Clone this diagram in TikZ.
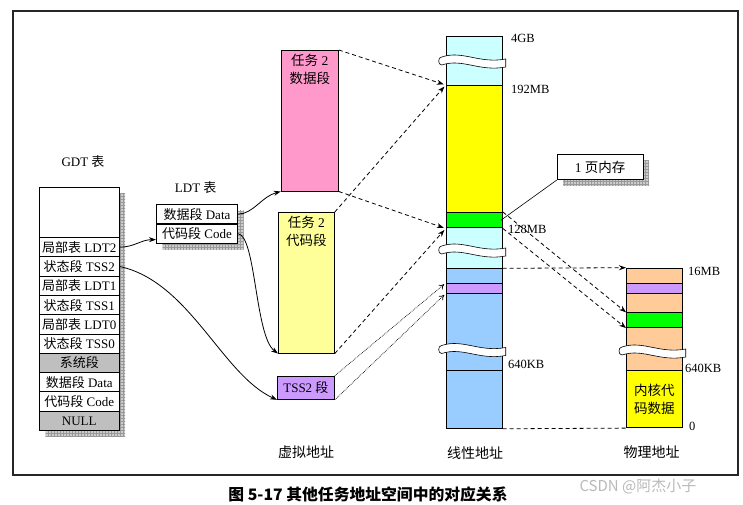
\documentclass[tikz,border=0pt]{standalone}
\usepackage{fontspec}
\usepackage{tikz}
\usetikzlibrary{arrows.meta,patterns}
\setmainfont{Liberation Serif}
\newfontfamily\cjk{Noto Sans CJK SC}
\newcommand{\rowfont}{\fontsize{13}{15}\selectfont}
\newcommand{\numfont}{\fontsize{12.5}{14}\selectfont}
% white wave cut across a column: left x, right x, middle y (pixels)
\newcommand{\wavecut}[3]{%
  \draw[fill=white, line width=0.6pt] (#1-4,-#3+4)
    .. controls (#1+0.3*#2-0.3*#1,-#3+11) and (#1+0.6*#2-0.6*#1,-#3-3) .. (#2+4,-#3+2)
    -- (#2+4,-#3-6)
    .. controls (#1+0.6*#2-0.6*#1,-#3-11) and (#1+0.3*#2-0.3*#1,-#3+3) .. (#1-4,-#3-4)
    .. controls (#1-8,-#3-4) and (#1-8,-#3+4) .. cycle;}
\definecolor{segpink}{HTML}{FF99CC}
\definecolor{segcode}{HTML}{FFFF99}
\definecolor{segtss}{HTML}{CC99FF}
\definecolor{segcyan}{HTML}{CCFFFF}
\definecolor{segblue}{HTML}{99CCFF}
\definecolor{segyel}{HTML}{FFFF00}
\definecolor{seggreen}{HTML}{00FF00}
\definecolor{segpeach}{HTML}{FFCC99}

\tikzset{
  tabrow/.style={draw, line width=1pt, anchor=north west, minimum width=79.5pt,
    minimum height=19.3pt, inner sep=0pt, font=\rowfont},
  ldtrow/.style={tabrow, minimum width=81pt},
  grayrow/.style={tabrow, fill=gray!50},
  hatch/.style={fill=gray!40, postaction={pattern=grid, pattern color=gray!80}},
  segbox/.style={draw, line width=0.8pt, anchor=north west, inner sep=0pt,
    font=\rowfont, align=center},
  linband/.style={segbox, minimum width=56pt},
  phband/.style={segbox, minimum width=55.7pt},
  dashline/.style={dash pattern=on 4pt off 3pt, line width=0.8pt, -{Stealth[length=7pt,width=5pt]}},
  dotline/.style={densely dotted, line width=0.7pt, -{To[length=5pt,width=6pt]}},
  curvearrow/.style={line width=0.8pt, -{Stealth[length=7pt,width=5pt]}},
  addr/.style={anchor=west, font=\numfont, inner sep=0pt},
  axislabel/.style={font=\cjk\fontsize{14}{16}\selectfont}
}

\begin{document}
\begin{tikzpicture}[x=1pt,y=1pt]
\useasboundingbox (0,0) rectangle (743,-505);
\draw[line width=1.4pt, black!85] (13,-11) rectangle (738,-475);

% GDT
\node[font=\rowfont] (gdtlabel) at (83,-161.7) {GDT {\cjk 表}};
\fill[hatch] (45.5,-193.5) rectangle (125,-436.5);
\node[tabrow, fill=white, minimum height=50pt] (gdtblank) at (39,-187) {};
\node[tabrow, fill=white] (ldt2) at (39,-237) {{\cjk 局部表} LDT2};
\node[tabrow, fill=white] (tss2row) at (39,-256.3) {{\cjk 状态段} TSS2};
\node[tabrow, fill=white] (ldt1) at (39,-275.6) {{\cjk 局部表} LDT1};
\node[tabrow, fill=white] (tss1row) at (39,-294.9) {{\cjk 状态段} TSS1};
\node[tabrow, fill=white] (ldt0) at (39,-314.2) {{\cjk 局部表} LDT0};
\node[tabrow, fill=white] (tss0row) at (39,-333.5) {{\cjk 状态段} TSS0};
\node[grayrow] (sysseg) at (39,-352.8) {\cjk 系统段};
\node[tabrow, fill=white] (gdtdata) at (39,-372.1) {{\cjk 数据段} Data};
\node[tabrow, fill=white] (gdtcode) at (39,-391.4) {{\cjk 代码段} Code};
\node[grayrow] (null) at (39,-410.7) {NULL};

% LDT
\node[font=\rowfont] (ldtlabel) at (195.7,-188) {LDT {\cjk 表}};
\fill[hatch] (162.5,-210.5) rectangle (243.5,-249.5);
\node[ldtrow, fill=white] (ldtdata) at (156,-204) {{\cjk 数据段} Data};
\node[ldtrow, fill=white] (ldtcode) at (156,-223.5) {{\cjk 代码段} Code};

% virtual
\node[segbox, fill=segpink, minimum width=57.3pt, minimum height=140.7pt,
  label={[below=1pt, align=center, font=\fontsize{13.5}{18}\selectfont]north:{\cjk 任务} 2\\{\cjk 数据段}}] (data2) at (280.7,-50) {};
\node[segbox, fill=segcode, minimum width=56pt, minimum height=140.7pt,
  label={[below=1pt, align=center, font=\fontsize{13.5}{18}\selectfont]north:{\cjk 任务} 2\\{\cjk 代码段}}] (code2) at (278,-212) {};
\node[segbox, fill=segtss, minimum width=57pt, minimum height=23.3pt] (tss2) at (277,-375.7) {TSS2 {\cjk 段}};
\node[axislabel] (virtlabel) at (306,-452) {虚拟地址};

% linear
\node[linband, fill=segcyan, minimum height=49pt] (lintop) at (445.7,-36) {};
\node[linband, fill=segyel, minimum height=127pt] (linyel) at (445.7,-85) {};
\node[linband, fill=seggreen, minimum height=15.3pt, line width=1.2pt] (lingreen) at (445.7,-212) {};
\node[linband, fill=segcyan, minimum height=41pt] (linmid) at (445.7,-227.3) {};
\node[linband, fill=segblue, minimum height=159.7pt] (linlow) at (445.7,-268.3) {};
\node[linband, fill=segtss, minimum height=9.7pt] (linpur) at (445.7,-283) {};
\draw[line width=0.8pt] (445.7,-370) -- (501.7,-370);
\wavecut{445.7}{501.7}{61}
\wavecut{445.7}{501.7}{250}
\wavecut{445.7}{501.7}{349.5}
\node[addr] (a4gb) at (511,-38) {4GB};
\node[addr] (a192) at (511,-89) {192MB};
\node[addr] (a128) at (508,-229) {128MB};
\node[addr] (a640) at (508,-364) {640KB};
\node[axislabel] (linlabel) at (475,-453) {线性地址};

% physical
\node[phband, fill=segpeach, minimum height=102.3pt] (phtop) at (626,-267.7) {};
\node[phband, fill=segtss, minimum height=9.4pt] (phpur) at (626,-283.3) {};
\node[phband, fill=seggreen, minimum height=15pt] (phgreen) at (626,-312.3) {};
\node[phband, fill=segyel, minimum height=57.3pt, font=\cjk\fontsize{13.5}{18}\selectfont] (phker) at (626,-370) {内核代\\码数据};
\wavecut{626}{681.7}{351}
\node[addr] (p16) at (688,-271) {16MB};
\node[addr] (p640) at (685,-368) {640KB};
\node[addr] (p0) at (689,-426.7) {0};
\node[axislabel] (phlabel) at (651.7,-452) {物理地址};

% callout
\fill[hatch] (563,-160.5) rectangle (649,-185.8);
\node[segbox, fill=white, minimum width=86pt, minimum height=25.3pt, font=\fontsize{13.5}{16}\selectfont] (page) at (556.7,-154) {1 {\cjk 页内存}};
\draw[line width=0.6pt] (page.south west) -- ([xshift=-2pt]lingreen.east);

% connectors
\draw[curvearrow] (ldt2.east) .. controls +(15,0) and +(-15,0) .. ([yshift=-6pt]ldtcode.west);
\draw[curvearrow] (ldtdata.east) .. controls +(15,0) and +(-19,-5) .. (data2.south west);
\draw[curvearrow] (ldtcode.east) .. controls +(18,-2) and +(-23,17) .. (code2.south west);
\draw[curvearrow] (tss2row.east) .. controls +(70,-15) and +(-55,25) .. (tss2.south west);
\draw[dashline, shorten >=2pt] (data2.north east) -- (linyel.north west);
\draw[dashline, shorten >=2pt] (code2.north east) -- (linyel.north west);
\draw[dashline, shorten >=2pt] (data2.south east) -- (lingreen.south west);
\draw[dashline, shorten >=2pt] (code2.south east) -- (lingreen.south west);
\draw[dotline, shorten >=2pt] (tss2.north east) -- (linpur.north west);
\draw[dotline, shorten >=2pt] (tss2.south east) -- (linpur.south west);
\draw[dashline] (linlow.north east) -- (phtop.north west);
\draw[dashline] (lingreen.north east) -- (phgreen.north west);
\draw[dashline] (lingreen.south east) -- (phgreen.south west);
\draw[dash pattern=on 4pt off 3pt, line width=0.8pt] (linlow.south east) -- (phker.south west);

% caption
\node[font=\cjk\bfseries\fontsize{15.8}{18}\selectfont] (caption) at (368,-494) {图 5-17 其他任务地址空间中的对应关系};
\node[anchor=west, text=gray!55, font=\cjk\fontsize{15}{17}\selectfont] (mark) at (576,-486) {CSDN @阿杰小子};
\end{tikzpicture}
\end{document}
